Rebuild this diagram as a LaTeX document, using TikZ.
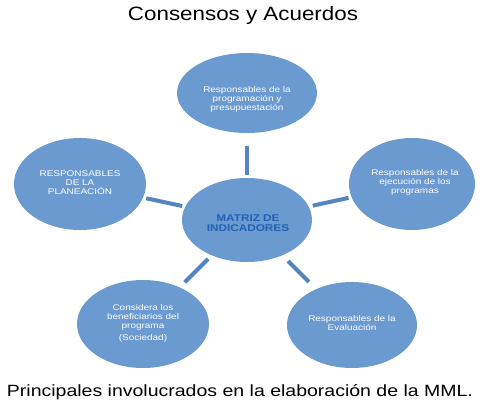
\documentclass[tikz,border=0pt]{standalone}
\usepackage{fontspec}
\usepackage{graphicx}
\setmainfont{Liberation Sans}
\newfontfamily\bubblefont{Liberation Sans}[FakeStretch=1.2]
\usetikzlibrary{shapes.geometric}
\definecolor{bubblefill}{HTML}{6A9AD0}
\definecolor{linkcol}{HTML}{5585C0}
\definecolor{centertext}{HTML}{1F63B5}
\tikzset{
  bubble/.style={ellipse, fill=bubblefill, draw=none, inner sep=0pt},
  btext/.style={align=center, text=white, font=\bubblefont\fontsize{8.3}{9}\selectfont, inner sep=0pt},
  ctext/.style={align=center, text=centertext, font=\bubblefont\bfseries\fontsize{9.8}{10}\selectfont, inner sep=0pt},
  link/.style={draw=linkcol, line width=4pt},
}
\begin{document}
\begin{tikzpicture}[x=1pt,y=-1pt]
\useasboundingbox (0,0) rectangle (488,405);
\node[anchor=base, inner sep=0pt] (title) at (243,20) {\resizebox{230pt}{14pt}{Consensos y Acuerdos}};
\node[anchor=base, inner sep=0pt] (caption) at (240,396) {\resizebox{466pt}{12pt}{Principales involucrados en la elaboración de la MML.}};

\node[bubble, minimum width=140pt, minimum height=80pt] (top) at (247,93) {};
\node[bubble, minimum width=130pt, minimum height=84pt] (mid) at (247,220) {};
\node[bubble, minimum width=132pt, minimum height=92pt] (left) at (80,184) {};
\node[bubble, minimum width=126pt, minimum height=92pt] (right) at (412,184) {};
\node[bubble, minimum width=132pt, minimum height=88pt] (bl) at (143,324) {};
\node[bubble, minimum width=130pt, minimum height=86pt] (br) at (352,325) {};

\node[btext] (ttop) at (247,99) {Responsables de la\\programación y\\presupuestación};
\node[ctext] (tmid) at (248,223) {MATRIZ DE\\INDICADORES};
\node[btext] (tleft) at (80,183) {RESPONSABLES\\DE LA\\PLANEACIÓN};
\node[btext] (tright) at (415,182) {Responsables de la\\ejecución de los\\programas};
\node[btext] (tbl) at (143,323) {Considera los\\beneficiarios del\\programa\\[3pt](Sociedad)};
\node[btext] (tbr) at (352,323) {Responsables de la\\Evaluación};

\draw[link, shorten <=3pt, shorten >=13pt] (mid) -- (top);
\draw[link, shorten <=3pt, shorten >=3pt] (mid) -- (left);
\draw[link, shorten <=4pt, shorten >=3pt] (mid) -- (right);
\draw[link, shorten <=5pt, shorten >=7pt] (mid) -- (bl);
\draw[link, shorten <=8pt, shorten >=10pt] (mid) -- (br);
\end{tikzpicture}
\end{document}
